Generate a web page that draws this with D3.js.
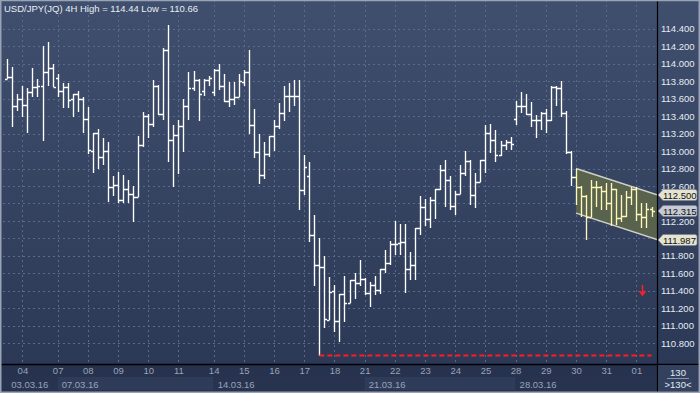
<!DOCTYPE html>
<html>
<head>
<meta charset="utf-8">
<script src="https://cdn.jsdelivr.net/npm/d3@7"></script>
<style>
  html, body { margin: 0; padding: 0; background: #27334f; overflow: hidden; }
  svg { display: block; }
  text { font-family: "Liberation Sans", Arial, sans-serif; }
</style>
</head>
<body>
<svg id="chart" width="700" height="393"></svg>
<script>
// 4H bars, index 0 = 03.03.16 12:00
const barOpen = [113.83,113.85,113.51,113.60,113.53,113.68,113.73,113.74,113.90,113.95,
  113.84,113.69,113.73,113.60,113.65,113.60,113.37,113.00,113.21,112.93,
  113.00,112.59,112.61,112.44,112.57,112.51,112.47,113.07,113.40,113.31,
  113.75,113.42,114.16,113.13,113.18,113.29,113.52,113.72,113.81,113.69,
  113.81,113.68,113.93,113.74,113.57,113.60,113.62,113.79,113.90,113.30,
  112.99,112.73,112.97,113.17,113.29,113.44,113.63,113.63,113.63,112.55,
  112.72,112.04,111.70,111.67,111.07,111.40,111.05,111.36,111.26,111.53,
  111.49,111.54,111.37,111.47,111.41,111.65,111.72,111.94,111.95,111.96,
  111.65,111.70,112.12,112.36,112.22,112.44,112.57,112.78,112.67,112.37,
  112.51,112.75,112.89,112.50,112.65,112.90,113.21,113.13,112.96,113.07,
  113.10,113.37,113.51,113.51,113.42,113.35,113.35,113.44,113.36,113.73,
  113.72,113.43,112.99,112.70,112.59,112.49,112.25,112.59,112.59,112.54,
  112.41,112.56,112.23,112.26,112.47,112.57,112.28,112.25,112.34];
const barHigh = [114.05,113.96,113.65,113.74,113.72,113.95,113.83,114.20,114.25,114.00,
  113.88,113.78,113.78,113.65,113.69,113.62,113.50,113.21,113.25,113.15,
  113.10,112.71,112.76,112.73,112.67,112.60,113.17,113.45,113.42,113.81,
  113.76,114.18,114.44,113.30,113.35,113.60,113.90,113.92,113.82,113.82,
  113.86,113.94,114.00,113.88,113.79,113.79,113.88,113.93,114.16,113.48,
  113.20,113.10,113.17,113.36,113.55,113.74,113.78,113.81,113.81,112.96,
  112.88,112.27,112.00,111.80,111.56,111.47,111.36,111.57,111.53,111.61,
  111.75,111.55,111.50,111.57,111.65,111.87,111.97,112.20,112.17,112.17,
  111.84,112.12,112.49,112.45,112.47,112.57,112.84,112.90,112.71,112.54,
  112.84,113.00,112.90,112.75,112.90,113.30,113.31,113.24,113.11,113.13,
  113.16,113.57,113.68,113.65,113.56,113.41,113.45,113.48,113.74,113.74,
  113.80,113.46,113.00,112.80,112.60,112.50,112.67,112.66,112.60,112.63,
  112.63,112.57,112.50,112.54,112.59,112.59,112.40,112.40,112.36];
const barLow = [113.82,113.28,113.46,113.39,113.21,113.62,113.62,113.11,113.74,113.73,
  113.62,113.49,113.49,113.39,113.45,113.21,112.97,112.75,112.79,112.84,
  112.42,112.48,112.40,112.41,112.41,112.19,112.47,113.05,113.15,113.28,
  113.41,113.36,112.87,112.59,112.74,112.99,113.35,113.69,113.34,113.63,
  113.75,113.63,113.70,113.56,113.50,113.53,113.62,113.74,113.20,112.92,
  112.62,112.68,112.93,113.00,113.25,113.34,113.45,113.52,112.32,112.50,
  111.96,111.46,110.66,110.97,111.07,110.93,110.82,111.04,111.26,111.31,
  111.46,111.35,111.22,111.35,111.36,111.61,111.70,111.81,111.81,111.37,
  111.52,111.52,112.04,112.14,112.12,112.22,112.55,112.36,112.33,112.27,
  112.51,112.71,112.38,112.35,112.65,112.75,112.98,112.88,112.94,113.01,
  113.01,113.30,113.43,113.41,113.28,113.15,113.24,113.21,113.34,113.52,
  113.39,112.97,112.60,112.38,112.25,111.98,112.25,112.36,112.33,112.33,
  112.14,112.15,112.19,112.25,112.38,112.20,112.12,112.12,112.25];
const barClose = [113.85,113.51,113.60,113.53,113.68,113.73,113.74,113.90,113.95,113.73,
  113.69,113.73,113.58,113.65,113.60,113.37,113.01,113.21,112.93,113.00,
  112.59,112.61,112.44,112.57,112.51,112.47,113.07,113.40,113.31,113.75,
  113.42,114.16,113.13,113.18,113.29,113.52,113.72,113.81,113.65,113.81,
  113.84,113.93,113.74,113.57,113.60,113.62,113.80,113.90,113.30,112.99,
  112.73,112.97,113.17,113.29,113.44,113.63,113.63,113.63,112.55,112.82,
  112.04,111.70,111.67,111.08,111.39,111.05,111.36,111.26,111.53,111.49,
  111.54,111.37,111.47,111.41,111.65,111.72,111.94,111.94,111.96,111.65,
  111.70,112.12,112.36,112.22,112.44,112.57,112.78,112.67,112.37,112.51,
  112.75,112.89,112.50,112.65,112.90,113.21,113.13,112.96,113.07,113.10,
  113.08,113.51,113.51,113.42,113.35,113.35,113.44,113.36,113.73,113.72,
  113.43,112.99,112.70,112.59,112.49,112.25,112.59,112.59,112.54,112.41,
  112.56,112.23,112.26,112.47,112.57,112.28,112.25,112.34,112.315];

const priceTicks = [114.4, 114.2, 114.0, 113.8, 113.6, 113.4, 113.2, 113.0, 112.8,
  112.6, 112.4, 112.2, 112.0, 111.8, 111.6, 111.4, 111.2, 111.0, 110.8];

const dayLabels = ['04','07','08','09','10','11','14','15','16','17','18',
  '21','22','23','24','25','28','29','30','31','01'];
const dayStart = [3,10,16,22,28,34,41,47,53,59,65,71,77,83,89,95,101,107,113,119,125];

const weekLabels = ['03.03.16','07.03.16','14.03.16','21.03.16','28.03.16'];
const weekStart = [0,10,41,71,101];

// trend channel (bar index, price)
const channelIdx = [113, 129.1];
const channelTop = [112.80, 112.50];
const channelBottom = [112.29, 111.987];

const tagValues = [112.500, 112.315, 111.987];
const tagKinds = ['line', 'last', 'line'];

const lowValue = 110.66, lowIndex = 62;
const signalIdx = 126.1, signalPrice = 111.41;

const titleText = 'USD/JPY(JQ) 4H  High = 114.44 Low = 110.66';
const barCount = '130';

const W = 700, H = 393;
const plotLeft = 3, plotRight = 657, plotBottom = 364;

var svg = d3.select('#chart');

var x = d3.scaleLinear().domain([0, 128]).range([7.3, 651.5]);
var y = d3.scaleLinear().domain([110.8, 114.4]).range([343.3, 28.7]);

var defs = svg.append('defs');
var grad = defs.append('linearGradient')
    .attr('id', 'bg')
    .attr('x1', 0).attr('y1', 0).attr('x2', 0).attr('y2', 1);
grad.append('stop').attr('offset', '0%').attr('stop-color', '#404f6d');
grad.append('stop').attr('offset', '100%').attr('stop-color', '#2b3957');

defs.append('clipPath')
    .attr('id', 'plotClip')
  .append('rect')
    .attr('x', plotLeft).attr('y', 0)
    .attr('width', plotRight - plotLeft).attr('height', plotBottom);

// backgrounds
svg.append('rect')
    .attr('x', 0).attr('y', 0)
    .attr('width', W).attr('height', plotBottom)
    .attr('fill', 'url(#bg)');

svg.append('rect')
    .attr('x', 0).attr('y', plotBottom)
    .attr('width', W).attr('height', H - plotBottom)
    .attr('fill', '#26324e');

// week bands in the lower date row
weekStart.forEach(function(s, k) {
  var x0 = k === 0 ? plotLeft : x(s);
  var x1 = k < weekStart.length - 1 ? x(weekStart[k + 1]) : plotRight;
  svg.append('rect')
      .attr('x', x0).attr('y', 377)
      .attr('width', x1 - x0).attr('height', 13)
      .attr('fill', k % 2 === 1 ? '#2f3c59' : '#28344f');
});

var plot = svg.append('g').attr('clip-path', 'url(#plotClip)');

// grid
plot.selectAll('line.hgrid')
  .data(priceTicks)
  .enter().append('line')
    .attr('class', 'hgrid')
    .attr('x1', plotLeft).attr('x2', plotRight)
    .attr('y1', d => Math.round(y(d)) + 0.5)
    .attr('y2', d => Math.round(y(d)) + 0.5)
    .attr('stroke', '#5a6a89')
    .attr('stroke-dasharray', '2,3');

plot.selectAll('line.vgrid')
  .data(dayStart)
  .enter().append('line')
    .attr('class', 'vgrid')
    .attr('x1', d => Math.round(x(d)) + 0.5)
    .attr('x2', d => Math.round(x(d)) + 0.5)
    .attr('y1', 0).attr('y2', plotBottom)
    .attr('stroke', '#5a6a89')
    .attr('stroke-dasharray', '2,3');

// channel
var chPoly = [
  [x(channelIdx[0]), y(channelTop[0])],
  [x(channelIdx[1]), y(channelTop[1])],
  [x(channelIdx[1]), y(channelBottom[1])],
  [x(channelIdx[0]), y(channelBottom[0])]
];
plot.append('path')
    .attr('d', 'M' + chPoly.join('L') + 'Z')
    .attr('fill', '#58624c');
plot.selectAll('line.chline')
  .data([channelTop, channelBottom])
  .enter().append('line')
    .attr('x1', x(channelIdx[0])).attr('x2', x(channelIdx[1]))
    .attr('y1', d => y(d[0])).attr('y2', d => y(d[1]))
    .attr('stroke', '#cfd2c4')
    .attr('stroke-width', 1.5);

// OHLC bars
function barPath(i) {
  var cx = Math.round(x(i)) + 0.5;
  var yo = Math.round(y(barOpen[i])) + 0.5;
  var yc = Math.round(y(barClose[i])) + 0.5;
  return 'M' + cx + ',' + Math.round(y(barHigh[i])) + 'V' + Math.round(y(barLow[i])) +
    'M' + (cx - 2.5) + ',' + yo + 'H' + cx +
    'M' + cx + ',' + yc + 'H' + (cx + 2.5);
}

plot.selectAll('path.bar')
  .data(d3.range(barOpen.length))
  .enter().append('path')
    .attr('class', 'bar')
    .attr('d', barPath)
    .attr('fill', 'none')
    .attr('stroke', i => i >= channelIdx[0] ? '#fff7b8' : '#ffffff')
    .attr('stroke-width', 1.35);

// lowest-low line
plot.append('line')
    .attr('x1', x(lowIndex)).attr('x2', x(barOpen.length - 1))
    .attr('y1', y(lowValue)).attr('y2', y(lowValue))
    .attr('stroke', '#ff1e1e')
    .attr('stroke-width', 2)
    .attr('stroke-dasharray', '5,3');

// signal arrow
var ax = Math.round(x(signalIdx)) + 0.5, ay = y(signalPrice);
plot.append('path')
    .attr('d', 'M' + ax + ',' + (ay - 5) + 'V' + (ay + 5) +
      'M' + (ax - 3) + ',' + (ay + 1) + 'L' + ax + ',' + (ay + 5) + 'L' + (ax + 3) + ',' + (ay + 1))
    .attr('fill', 'none')
    .attr('stroke', '#ff2020')
    .attr('stroke-width', 1.5);

// title
svg.append('text')
    .attr('x', 4).attr('y', 11.5)
    .attr('fill', '#e8edf6')
    .style('font-size', '9.5px')
    .text(titleText);

// price axis; labels that sit under a price tag are hidden, as on the original
var axisTicks = priceTicks.filter(v => tagValues.every(t => Math.abs(y(v) - y(t)) > 8));

var yAxis = d3.axisRight(y)
    .tickValues(axisTicks)
    .tickFormat(d3.format('.3f'))
    .tickSize(0)
    .tickPadding(4);

var yAxisG = svg.append('g')
    .attr('transform', 'translate(' + plotRight + ',0)')
    .call(yAxis);
yAxisG.select('.domain').remove();
yAxisG.selectAll('text')
    .attr('fill', '#e6ebf3')
    .style('font-size', '9.5px')
    .style('font-family', '"Liberation Sans", Arial, sans-serif');

// date axis
var xAxis = d3.axisBottom(x)
    .tickValues(dayStart)
    .tickFormat((d, i) => dayLabels[i])
    .tickSize(0)
    .tickPadding(0);

var xAxisG = svg.append('g')
    .attr('transform', 'translate(0,' + (plotBottom + 3) + ')')
    .call(xAxis);
xAxisG.select('.domain').remove();
xAxisG.selectAll('text')
    .attr('fill', '#98a3b9')
    .style('font-size', '9.5px')
    .style('font-family', '"Liberation Sans", Arial, sans-serif');

svg.selectAll('text.week')
  .data(weekLabels)
  .enter().append('text')
    .attr('class', 'week')
    .attr('x', (d, k) => x(weekStart[k]) + 4)
    .attr('y', 387.5)
    .attr('fill', '#98a3b9')
    .style('font-size', '9.5px')
    .text(d => d);

// frame lines
svg.append('line')
    .attr('x1', 0).attr('x2', W)
    .attr('y1', plotBottom + 0.5).attr('y2', plotBottom + 0.5)
    .attr('stroke', '#000')
    .attr('stroke-width', 1.5);
svg.append('line')
    .attr('x1', plotRight + 0.5).attr('x2', plotRight + 0.5)
    .attr('y1', 0).attr('y2', H)
    .attr('stroke', '#000')
    .attr('stroke-width', 1.2);

// price tags on the axis
var tags = svg.selectAll('g.tag')
  .data(tagValues)
  .enter().append('g')
    .attr('class', 'tag')
    .attr('transform', d => 'translate(' + (plotRight + 1) + ',' + Math.round(y(d)) + ')');

tags.append('path')
    .attr('d', 'M0,0L5,-5.5H37Q39,-5.5 39,-3.5V3.5Q39,5.5 37,5.5H5Z')
    .attr('fill', (d, i) => tagKinds[i] === 'last' ? '#c6cad2' : '#e4e4d0')
    .attr('stroke', '#7c8090')
    .attr('stroke-width', 0.6);

tags.append('text')
    .attr('x', 5).attr('y', 3.5)
    .attr('fill', '#111')
    .style('font-size', '9.5px')
    .text(d => d3.format('.3f')(d));

// bar count box
svg.append('rect')
    .attr('x', plotRight + 1).attr('y', plotBottom + 1)
    .attr('width', W - plotRight - 3).attr('height', H - plotBottom - 3)
    .attr('fill', '#33415e');
svg.append('text')
    .attr('x', 678).attr('y', 375.5)
    .attr('text-anchor', 'middle')
    .attr('fill', '#e6ebf3')
    .style('font-size', '9.5px')
    .text(barCount);
svg.append('line')
    .attr('x1', 667).attr('x2', 689)
    .attr('y1', 378.5).attr('y2', 378.5)
    .attr('stroke', '#8d97ab');
svg.append('text')
    .attr('x', 678).attr('y', 388)
    .attr('text-anchor', 'middle')
    .attr('fill', '#e6ebf3')
    .style('font-size', '9.5px')
    .text('>' + barCount + '<');

// outer border
svg.append('rect')
    .attr('x', 0.75).attr('y', 0.5)
    .attr('width', W - 1.5).attr('height', H - 1.25)
    .attr('fill', 'none')
    .attr('stroke', '#9aa3b5')
    .attr('stroke-width', 1.5);
</script>
</body>
</html>
